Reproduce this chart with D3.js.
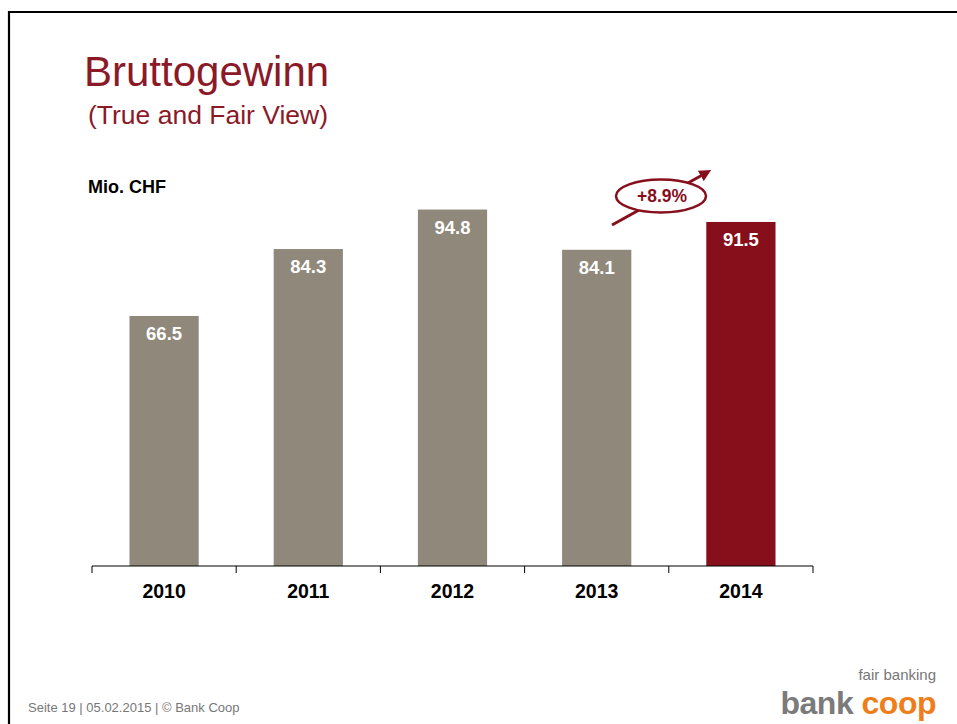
<!DOCTYPE html>
<meta charset="utf-8">
<style>
  body { margin: 0; background: #fff; }
  text { font-family: "Liberation Sans", Arial, sans-serif; }
</style>
<svg width="957" height="724"></svg>

<script src="https://d3js.org/d3.v7.min.js"></script>
<script>

// data
var years = ["2010", "2011", "2012", "2013", "2014"]
var values = [66.5, 84.3, 94.8, 84.1, 91.5]
var growthLabel = "+8.9%"

var grey = '#8f887b'
var darkRed = '#870f1c'
var titleRed = '#8b1a28'

var svg = d3.select('svg')

// slide frame (only top and left edges show)
svg.append('path')
  .attr('d', 'M9,726 L9,12 L960,12')
  .attr('fill', 'none')
  .attr('stroke', '#000')
  .attr('stroke-width', 2.2)

// titles
svg.append('text')
  .attr('x', 84).attr('y', 86)
  .attr('font-size', 42)
  .attr('fill', titleRed)
  .text('Bruttogewinn')

svg.append('text')
  .attr('x', 88).attr('y', 124)
  .attr('font-size', 26.5)
  .attr('fill', titleRed)
  .text('(True and Fair View)')

svg.append('text')
  .attr('x', 88).attr('y', 193)
  .attr('font-size', 18)
  .attr('font-weight', 'bold')
  .attr('fill', '#000')
  .text('Mio. CHF')

// scales
var x = d3.scaleBand()
  .domain(years)
  .range([92, 813])
  .paddingInner(0.52)
  .paddingOuter(0.26)

var y = d3.scaleLinear()
  .domain([0, 100])
  .range([566, 190])

var data = years.map(function (yr, i) { return { year: yr, value: values[i] } })

// bars
svg.append('g').selectAll('rect')
  .data(data)
  .enter().append('rect')
  .attr('x', function (d) { return x(d.year) })
  .attr('width', x.bandwidth())
  .attr('y', function (d) { return y(d.value) })
  .attr('height', function (d) { return y(0) - y(d.value) })
  .attr('fill', function (d, i) { return i === data.length - 1 ? darkRed : grey })

// value labels inside bars
svg.append('g').selectAll('text')
  .data(data)
  .enter().append('text')
  .attr('x', function (d) { return x(d.year) + x.bandwidth() / 2 })
  .attr('y', function (d) { return y(d.value) + 24 })
  .attr('text-anchor', 'middle')
  .attr('font-size', 18.5)
  .attr('font-weight', 'bold')
  .attr('fill', '#fff')
  .text(function (d) { return d.value.toFixed(1) })

// x axis with ticks between categories
var axis = svg.append('g')
axis.append('line')
  .attr('x1', 92).attr('x2', 813)
  .attr('y1', y(0)).attr('y2', y(0))
  .attr('stroke', '#000').attr('stroke-width', 1)

var tickX = years.map(function (yr) { return x(yr) - x.step() * x.paddingInner() / 2 })
tickX.push(813)
axis.selectAll('line.tick')
  .data(tickX)
  .enter().append('line')
  .attr('class', 'tick')
  .attr('x1', function (d) { return d }).attr('x2', function (d) { return d })
  .attr('y1', y(0)).attr('y2', y(0) + 7)
  .attr('stroke', '#000').attr('stroke-width', 1)

axis.selectAll('text')
  .data(years)
  .enter().append('text')
  .attr('x', function (d) { return x(d) + x.bandwidth() / 2 })
  .attr('y', y(0) + 32)
  .attr('text-anchor', 'middle')
  .attr('font-size', 19.5)
  .attr('font-weight', 'bold')
  .attr('fill', '#000')
  .text(function (d) { return d })

// growth annotation: arrow through an ellipse
svg.append('defs').append('marker')
  .attr('id', 'arrow')
  .attr('viewBox', '0 0 10 10')
  .attr('refX', 5).attr('refY', 5)
  .attr('markerWidth', 4).attr('markerHeight', 4)
  .attr('orient', 'auto')
  .append('path')
  .attr('d', 'M0,0 L10,5 L0,10 z')
  .attr('fill', darkRed)

svg.append('line')
  .attr('x1', 612).attr('y1', 225)
  .attr('x2', 706).attr('y2', 173)
  .attr('stroke', darkRed).attr('stroke-width', 3)
  .attr('marker-end', 'url(#arrow)')

svg.append('ellipse')
  .attr('cx', 661).attr('cy', 196)
  .attr('rx', 45).attr('ry', 16.5)
  .attr('fill', '#fff')
  .attr('stroke', darkRed).attr('stroke-width', 2.5)

svg.append('text')
  .attr('x', 662).attr('y', 202)
  .attr('text-anchor', 'middle')
  .attr('font-size', 17.5)
  .attr('font-weight', 'bold')
  .attr('fill', darkRed)
  .text(growthLabel)

// footer
svg.append('text')
  .attr('x', 28).attr('y', 712)
  .attr('font-size', 13)
  .attr('fill', '#777')
  .text('Seite 19 | 05.02.2015 | \u00a9 Bank Coop')

svg.append('text')
  .attr('x', 936).attr('y', 680)
  .attr('text-anchor', 'end')
  .attr('font-family', 'DejaVu Sans Condensed, sans-serif')
  .attr('font-size', 15)
  .attr('fill', '#777')
  .text('fair banking')

var logo = svg.append('text')
  .attr('x', 936).attr('y', 714)
  .attr('text-anchor', 'end')
  .attr('font-family', 'DejaVu Sans, sans-serif')
  .attr('font-size', 32)
  .attr('font-weight', 'bold')
  .attr('letter-spacing', -0.5)
logo.append('tspan').attr('fill', '#7b7b7b').text('bank ')
logo.append('tspan').attr('fill', '#ef7d1a').text('coop')

</script>
